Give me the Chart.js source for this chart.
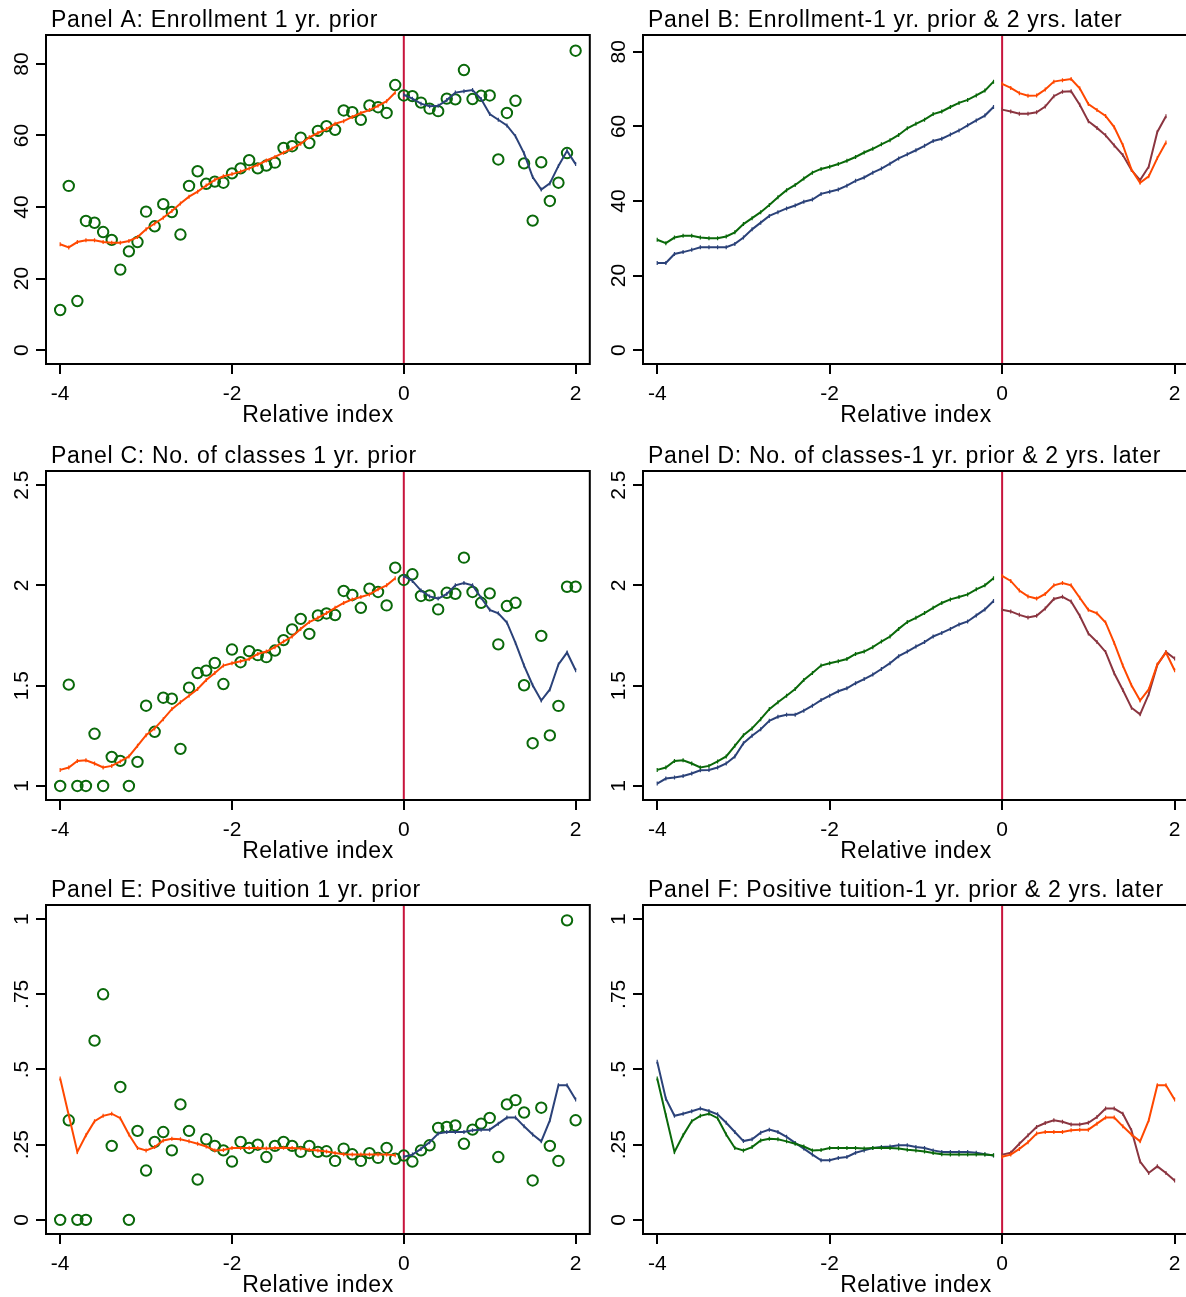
<!DOCTYPE html>
<html>
<head>
<meta charset="utf-8">
<script src="https://cdn.jsdelivr.net/npm/chart.js@4.4.1/dist/chart.umd.min.js"></script>
<style>
  body { margin: 0; background: #fff; width: 1186px; height: 1297px; overflow: hidden; position: relative; }
  .panel { position: absolute; width: 597px; height: 436px; }
</style>
</head>
<body>
<div class="panel" style="left:0;top:0"><canvas id="pA" width="597" height="436"></canvas></div>
<div class="panel" style="left:597px;top:0"><canvas id="pB" width="597" height="436"></canvas></div>
<div class="panel" style="left:0;top:436px"><canvas id="pC" width="597" height="436"></canvas></div>
<div class="panel" style="left:597px;top:436px"><canvas id="pD" width="597" height="436"></canvas></div>
<div class="panel" style="left:0;top:870px"><canvas id="pE" width="597" height="436"></canvas></div>
<div class="panel" style="left:597px;top:870px"><canvas id="pF" width="597" height="436"></canvas></div>

<script>
// relative index positions (bins before / after the cutoff)
const xPre = [-4.0, -3.9, -3.8, -3.7, -3.6, -3.5, -3.4, -3.3, -3.2, -3.1,
              -3.0, -2.9, -2.8, -2.7, -2.6, -2.5, -2.4, -2.3, -2.2, -2.1,
              -2.0, -1.9, -1.8, -1.7, -1.6, -1.5, -1.4, -1.3, -1.2, -1.1,
              -1.0, -0.9, -0.8, -0.7, -0.6, -0.5, -0.4, -0.3, -0.2, -0.1];
const xPost = [0.0, 0.1, 0.2, 0.3, 0.4, 0.5, 0.6, 0.7, 0.8, 0.9, 1.0,
               1.1, 1.2, 1.3, 1.4, 1.5, 1.6, 1.7, 1.8, 1.9, 2.0];
const xTicks = [-4, -2, 0, 2];
const xTickLabels = ['-4', '-2', '0', '2'];

// enrollment
const enrollObsPre = [11.2, 45.9, 13.7, 36.1, 35.6, 33.0, 30.8, 22.5, 27.6, 30.2,
                      38.7, 34.6, 40.8, 38.6, 32.3, 45.9, 50.0, 46.5, 47.1, 46.8,
                      49.4, 50.8, 53.1, 50.8, 51.6, 52.4, 56.5, 57.0, 59.4, 57.9,
                      61.3, 62.6, 61.6, 67.0, 66.5, 64.4, 68.4, 67.9, 66.3, 74.1];
const enrollObsPost = [71.2, 71.0, 69.2, 67.5, 66.8, 70.3, 70.1, 78.3, 70.2, 71.1, 71.2,
                       53.3, 66.3, 69.7, 52.2, 36.2, 52.5, 41.7, 46.8, 55.1, 83.7];
const enrollFitPre = [29.6, 28.7, 30.2, 30.7, 30.7, 30.2, 30.0, 30.0, 30.5, 31.6,
                      33.8, 35.4, 37.0, 38.9, 41.0, 42.9, 44.3, 46.0, 47.6, 48.6,
                      49.2, 49.9, 50.8, 51.8, 53.0, 54.0, 55.2, 56.3, 57.7, 59.5,
                      60.7, 61.8, 63.3, 64.0, 65.2, 66.3, 67.1, 68.3, 69.6, 72.0];
const enrollFitPost = [71.4, 70.3, 68.9, 68.2, 68.3, 69.9, 72.0, 72.4, 72.7, 70.2, 66.0,
                       64.4, 62.8, 59.8, 55.0, 48.4, 44.9, 46.6, 51.5, 55.7, 52.0];
const enrollLaterPre = [23.4, 23.4, 25.8, 26.3, 26.9, 27.6, 27.6, 27.6, 27.6, 28.5,
                        30.2, 32.4, 34.2, 36.0, 37.0, 38.0, 38.8, 39.8, 40.4, 41.9,
                        42.5, 43.1, 44.1, 45.4, 46.3, 47.6, 48.7, 50.0, 51.4, 52.5,
                        53.6, 54.8, 56.1, 56.7, 57.8, 58.9, 60.3, 61.6, 62.9, 65.2];
const enrollLaterPost = [64.5, 64.0, 63.4, 63.4, 63.8, 65.3, 68.1, 69.3, 69.4, 65.8,
                         61.4, 59.6, 57.6, 54.9, 52.3, 48.3, 45.6, 49.2, 58.5, 62.7];
const enrollTicks = [0, 20, 40, 60, 80];
const enrollTickLabels = ['0', '20', '40', '60', '80'];

// number of classes
const classObsPre = [1.0, 1.505, 1.0, 1.0, 1.26, 1.0, 1.145, 1.125, 1.0, 1.12,
                     1.40, 1.27, 1.44, 1.435, 1.185, 1.49, 1.563, 1.575, 1.613, 1.508,
                     1.68, 1.617, 1.672, 1.652, 1.642, 1.675, 1.727, 1.78, 1.833, 1.758,
                     1.85, 1.86, 1.852, 1.972, 1.952, 1.888, 1.983, 1.967, 1.9, 2.088];
const classObsPost = [2.027, 2.055, 1.947, 1.95, 1.88, 1.963, 1.958, 2.138, 1.967, 1.913, 1.96,
                      1.706, 1.897, 1.913, 1.502, 1.213, 1.748, 1.252, 1.399, 1.993, 1.993];
const classFitPre = [1.08, 1.092, 1.125, 1.128, 1.112, 1.092, 1.1, 1.122, 1.147, 1.2,
                     1.253, 1.287, 1.333, 1.383, 1.417, 1.45, 1.483, 1.528, 1.563, 1.6,
                     1.612, 1.622, 1.633, 1.658, 1.67, 1.692, 1.72, 1.745, 1.783, 1.817,
                     1.838, 1.862, 1.888, 1.912, 1.93, 1.942, 1.955, 1.98, 2.0, 2.035];
const classFitPost = [2.047, 2.022, 1.974, 1.945, 1.934, 1.957, 2.0, 2.012, 2.0, 1.938, 1.878,
                      1.861, 1.815, 1.713, 1.6, 1.502, 1.426, 1.481, 1.606, 1.665, 1.577];
const classLaterPre = [1.012, 1.037, 1.042, 1.05, 1.062, 1.078, 1.08, 1.092, 1.112, 1.147,
                       1.213, 1.25, 1.283, 1.325, 1.345, 1.355, 1.355, 1.375, 1.4, 1.428,
                       1.45, 1.472, 1.487, 1.512, 1.533, 1.555, 1.583, 1.612, 1.647, 1.67,
                       1.695, 1.717, 1.745, 1.763, 1.783, 1.805, 1.82, 1.85, 1.88, 1.922];
const classLaterPost = [1.878, 1.87, 1.853, 1.84, 1.848, 1.885, 1.932, 1.943, 1.92, 1.848, 1.76,
                        1.718, 1.668, 1.562, 1.478, 1.39, 1.357, 1.457, 1.603, 1.668, 1.635];
const classTicks = [1, 1.5, 2, 2.5];
const classTickLabels = ['1', '1.5', '2', '2.5'];

// positive tuition
const tuitObsPre = [0, 0.331, 0, 0, 0.596, 0.75, 0.246, 0.442, 0, 0.296,
                    0.164, 0.259, 0.292, 0.231, 0.384, 0.296, 0.134, 0.268, 0.246, 0.231,
                    0.194, 0.259, 0.239, 0.25, 0.209, 0.246, 0.259, 0.246, 0.226, 0.246,
                    0.226, 0.228, 0.196, 0.237, 0.218, 0.196, 0.222, 0.206, 0.239, 0.203];
const tuitObsPost = [0.214, 0.194, 0.231, 0.248, 0.306, 0.309, 0.314, 0.253, 0.3, 0.32, 0.339,
                     0.209, 0.384, 0.398, 0.357, 0.131, 0.373, 0.246, 0.196, 0.996, 0.331];
const tuitFitPre = [0.47, 0.348, 0.226, 0.281, 0.328, 0.346, 0.353, 0.338, 0.284, 0.239,
                    0.231, 0.242, 0.264, 0.27, 0.268, 0.261, 0.253, 0.244, 0.231, 0.232,
                    0.239, 0.239, 0.239, 0.239, 0.237, 0.239, 0.24, 0.239, 0.237, 0.233,
                    0.231, 0.227, 0.222, 0.218, 0.217, 0.217, 0.217, 0.217, 0.217, 0.215];
const tuitFitPost = [0.21, 0.217, 0.236, 0.258, 0.287, 0.292, 0.292, 0.292, 0.298, 0.3, 0.3,
                     0.32, 0.34, 0.34, 0.311, 0.284, 0.261, 0.331, 0.448, 0.448, 0.4];
const tuitLaterPre = [0.526, 0.403, 0.346, 0.353, 0.361, 0.37, 0.362, 0.351, 0.323, 0.292,
                      0.262, 0.268, 0.29, 0.3, 0.292, 0.276, 0.256, 0.237, 0.217, 0.198,
                      0.198, 0.206, 0.209, 0.223, 0.231, 0.239, 0.242, 0.244, 0.248, 0.248,
                      0.242, 0.239, 0.231, 0.226, 0.226, 0.226, 0.226, 0.223, 0.218, 0.214];
const tuitLaterPost = [0.217, 0.223, 0.253, 0.281, 0.309, 0.322, 0.331, 0.326, 0.317, 0.317, 0.323,
                       0.342, 0.37, 0.37, 0.353, 0.298, 0.194, 0.156, 0.178, 0.156, 0.131];
const tuitTicks = [0, 0.25, 0.5, 0.75, 1];
const tuitTickLabels = ['0', '.25', '.5', '.75', '1'];

// colours
const GREEN = '#0a690a';
const ORANGE = '#ff4800';
const NAVY = '#2b4279';
const MAROON = '#8b3540';
const CRANBERRY = '#c8143c';
const FONT = "'Liberation Sans', Arial, sans-serif";

function pts(xs, ys) {
    return ys.map((y, i) => ({ x: xs[i], y: y }));
}

function line(data, color) {
    return {
        data: data, showLine: true, borderColor: color, borderWidth: 2, tension: 0,
        pointStyle: 'line', pointRotation: 90, pointRadius: 2,
        pointBorderColor: color, pointBorderWidth: 1.2, order: 0
    };
}

function dots(data) {
    return {
        data: data, showLine: false, pointStyle: 'circle', pointRadius: 5.2,
        pointBorderColor: GREEN, pointBackgroundColor: 'rgba(0,0,0,0)',
        pointBorderWidth: 2, order: 1
    };
}

// frame, cutoff line, titles and tick labels in the Stata look
const stataDeco = {
    id: 'stataDeco',
    beforeDatasetsDraw(chart) {
        const ctx = chart.ctx;
        const a = chart.chartArea;
        const x0 = chart.scales.x.getPixelForValue(0);
        ctx.save();
        ctx.strokeStyle = CRANBERRY;
        ctx.lineWidth = 2;
        ctx.beginPath();
        ctx.moveTo(x0, a.top);
        ctx.lineTo(x0, a.bottom);
        ctx.stroke();
        ctx.restore();
    },
    afterDraw(chart, args, opts) {
        const ctx = chart.ctx;
        const a = chart.chartArea;
        const xs = chart.scales.x;
        const ys = chart.scales.y;
        ctx.save();
        ctx.strokeStyle = '#000';
        ctx.lineWidth = 2;
        ctx.strokeRect(a.left, a.top, a.right - a.left, a.bottom - a.top);

        ctx.fillStyle = '#000';
        ctx.font = '23px ' + FONT;
        ctx.letterSpacing = '0.7px';
        ctx.textAlign = 'left';
        ctx.textBaseline = 'alphabetic';
        ctx.fillText(opts.title, 51, 27);

        ctx.letterSpacing = '0.5px';
        ctx.textAlign = 'center';
        ctx.fillText('Relative index', (a.left + a.right) / 2, 422);

        ctx.letterSpacing = '0px';
        ctx.font = '21px ' + FONT;
        xTicks.forEach((v, i) => {
            ctx.fillText(xTickLabels[i], xs.getPixelForValue(v), 400);
        });
        opts.yValues.forEach((v, i) => {
            const py = ys.getPixelForValue(v);
            ctx.save();
            ctx.translate(28, py);
            ctx.rotate(-Math.PI / 2);
            ctx.fillText(opts.yLabels[i], 0, 0);
            ctx.restore();
        });
        ctx.restore();
    }
};

function makePanel(id, title, yMin, yMax, yValues, yLabels, datasets) {
    new Chart(document.getElementById(id), {
        type: 'scatter',
        data: { datasets: datasets },
        plugins: [stataDeco],
        options: {
            responsive: false,
            animation: false,
            events: [],
            layout: { padding: { top: 35, right: 4, left: 0, bottom: 0 } },
            plugins: {
                legend: { display: false },
                tooltip: { enabled: false },
                stataDeco: { title: title, yValues: yValues, yLabels: yLabels }
            },
            scales: {
                x: {
                    type: 'linear', min: -4.165, max: 2.165,
                    afterBuildTicks: s => { s.ticks = xTicks.map(v => ({ value: v })); },
                    afterFit: s => { s.height = 72; },
                    grid: { drawOnChartArea: false, drawTicks: true, tickLength: 10, color: '#000', lineWidth: 2 },
                    border: { display: false },
                    ticks: { display: false }
                },
                y: {
                    type: 'linear', min: yMin, max: yMax,
                    afterBuildTicks: s => { s.ticks = yValues.map(v => ({ value: v })); },
                    afterFit: s => { s.width = 46; },
                    grid: { drawOnChartArea: false, drawTicks: true, tickLength: 10, color: '#000', lineWidth: 2 },
                    border: { display: false },
                    ticks: { display: false }
                }
            }
        }
    });
}

makePanel('pA', 'Panel A: Enrollment 1 yr. prior', -3.9, 88.1, enrollTicks, enrollTickLabels, [
    line(pts(xPre, enrollFitPre), ORANGE),
    line(pts(xPost, enrollFitPost), NAVY),
    dots(pts(xPre, enrollObsPre)),
    dots(pts(xPost, enrollObsPost))
]);

makePanel('pB', 'Panel B: Enrollment-1 yr. prior & 2 yrs. later', -3.7, 84.5, enrollTicks, enrollTickLabels, [
    line(pts(xPre, enrollFitPre), GREEN),
    line(pts(xPre, enrollLaterPre), NAVY),
    line(pts(xPost, enrollFitPost.slice(0, 20)), ORANGE),
    line(pts(xPost, enrollLaterPost), MAROON)
]);

makePanel('pC', 'Panel C: No. of classes 1 yr. prior', 0.93, 2.57, classTicks, classTickLabels, [
    line(pts(xPre, classFitPre), ORANGE),
    line(pts(xPost, classFitPost), NAVY),
    dots(pts(xPre, classObsPre)),
    dots(pts(xPost, classObsPost))
]);

makePanel('pD', 'Panel D: No. of classes-1 yr. prior & 2 yrs. later', 0.93, 2.57, classTicks, classTickLabels, [
    line(pts(xPre, classFitPre), GREEN),
    line(pts(xPre, classLaterPre), NAVY),
    line(pts(xPost, classFitPost), ORANGE),
    line(pts(xPost, classLaterPost), MAROON)
]);

makePanel('pE', 'Panel E: Positive tuition 1 yr. prior', -0.047, 1.047, tuitTicks, tuitTickLabels, [
    line(pts(xPre, tuitFitPre), ORANGE),
    line(pts(xPost, tuitFitPost), NAVY),
    dots(pts(xPre, tuitObsPre)),
    dots(pts(xPost, tuitObsPost))
]);

makePanel('pF', 'Panel F: Positive tuition-1 yr. prior & 2 yrs. later', -0.047, 1.047, tuitTicks, tuitTickLabels, [
    line(pts(xPre, tuitFitPre), GREEN),
    line(pts(xPre, tuitLaterPre), NAVY),
    line(pts(xPost, tuitFitPost), ORANGE),
    line(pts(xPost, tuitLaterPost), MAROON)
]);
</script>
</body>
</html>
